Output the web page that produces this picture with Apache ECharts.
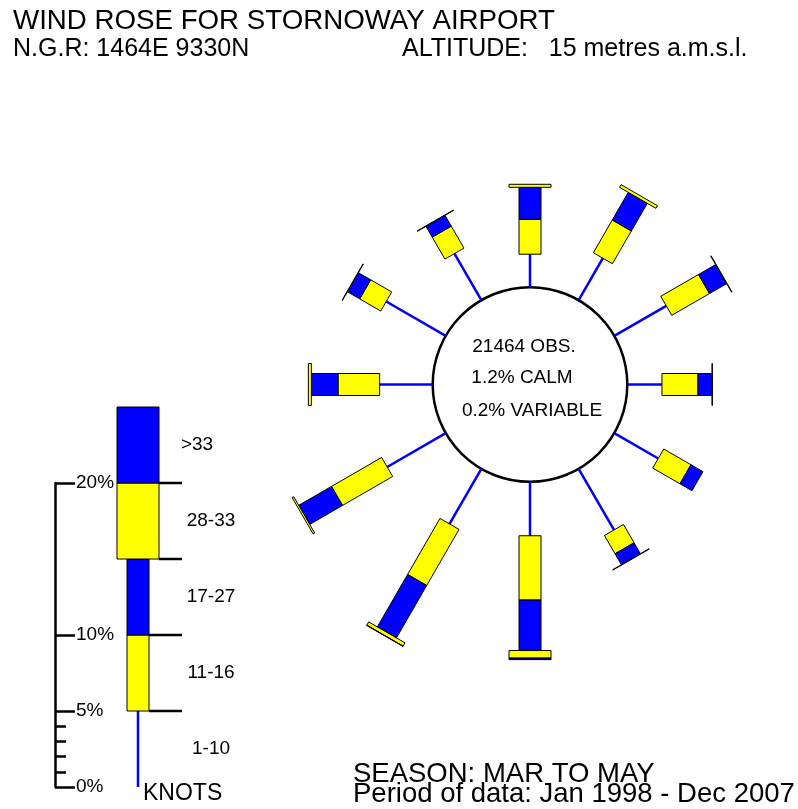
<!DOCTYPE html>
<html>
<head>
<meta charset="utf-8">
<title>Wind rose - Stornoway Airport</title>
<script src="https://cdn.jsdelivr.net/npm/echarts@6/dist/echarts.min.js"></script>
<style>
  html, body { margin:0; padding:0; background:#fff; }
  #main { width:798px; height:809px; }
</style>
</head>
<body>
<div id="main"></div>
<script>
// wind direction, degrees clockwise from north
var directions = [0, 30, 60, 90, 120, 150, 180, 210, 240, 270, 300, 330];
// % of observations in each speed band (knots), per direction
var kt1_10   = [2.17, 3.19, 3.95, 2.28, 3.34, 4.65, 3.55, 4.19, 4.45, 3.49, 4.52, 3.54];
var kt11_16  = [2.30, 2.49, 2.87, 2.37, 2.07, 1.39, 4.23, 4.26, 3.81, 2.74, 1.60, 1.67];
var kt17_27  = [2.10, 2.10, 1.30, 0.92, 0.91, 0.83, 3.32, 3.98, 2.49, 1.75, 0.93, 0.82];
var kt28_33  = [0.20, 0.20, 0.03, 0.03, 0.00, 0.03, 0.50, 0.25, 0.12, 0.20, 0.03, 0.03];
var ktOver33 = [0.00, 0.00, 0.00, 0.00, 0.00, 0.00, 0.10, 0.02, 0.00, 0.00, 0.00, 0.00];

// key
var bandNames = ['1-10', '11-16', '17-27', '28-33', '>33'];
var bandEdges = [0, 5, 10, 15, 20, 25];
var scaleTicks = [0, 5, 10, 20];
var scaleMinorTicks = [1, 2, 3, 4];

var obsCount = 21464;
var calmPct = 1.2;
var variablePct = 0.2;

var FONT = '"Liberation Sans", Arial, Helvetica, sans-serif';
var bandColors = ['#0000ff', '#ffff00', '#0000ff', '#ffff00', '#0000ff'];
var bandHalfWidth = [0, 11, 11, 21, 21];

var roseData = [];
for (var i = 0; i < directions.length; i++) {
  roseData.push([directions[i], kt1_10[i], kt11_16[i], kt17_27[i], kt28_33[i], ktOver33[i]]);
}
var keyData = [];
for (var k = 0; k < bandNames.length; k++) {
  keyData.push([k, bandEdges[k], bandEdges[k + 1]]);
}

function txt(x, y, s, size, align) {
  return {
    type: 'text', x: x, y: y, silent: true, z: 100,
    style: {
      text: s, fill: '#000', fontSize: size, fontFamily: FONT,
      align: align || 'left', textAlign: align || 'left',
      verticalAlign: 'middle', textVerticalAlign: 'middle'
    }
  };
}

function renderSpoke(params, api) {
  var ang = api.value(0);
  var cs = params.coordSys;
  var kids = [];
  // unit vector along the spoke, and its normal
  var a = api.coord([0, ang]);
  var b = api.coord([1, ang]);
  var len = Math.sqrt((b[0] - a[0]) * (b[0] - a[0]) + (b[1] - a[1]) * (b[1] - a[1]));
  var ux = (b[0] - a[0]) / len, uy = (b[1] - a[1]) / len;
  var nx = -uy, ny = ux;

  if (params.dataIndex === 0) {
    var r0 = Math.sqrt((a[0] - cs.cx) * (a[0] - cs.cx) + (a[1] - cs.cy) * (a[1] - cs.cy));
    kids.push({
      type: 'circle', shape: { cx: cs.cx, cy: cs.cy, r: r0 },
      style: { fill: 'none', stroke: '#000', lineWidth: 2.5 }
    });
  }

  var from = 0;
  for (var j = 0; j < 5; j++) {
    var v = api.value(j + 1);
    var to = from + v;
    var p = api.coord([from, ang]);
    var q = api.coord([to, ang]);
    if (j === 0) {
      kids.push({
        type: 'line', shape: { x1: p[0], y1: p[1], x2: q[0], y2: q[1] },
        style: { stroke: '#0000ff', lineWidth: 2.5 }
      });
    } else if (v > 0) {
      var w = bandHalfWidth[j];
      kids.push({
        type: 'polygon',
        shape: { points: [
          [p[0] + nx * w, p[1] + ny * w],
          [q[0] + nx * w, q[1] + ny * w],
          [q[0] - nx * w, q[1] - ny * w],
          [p[0] - nx * w, p[1] - ny * w]
        ] },
        style: { fill: bandColors[j], stroke: '#000', lineWidth: 1 }
      });
    }
    from = to;
  }
  return { type: 'group', children: kids };
}

function renderKey(params, api) {
  var i = api.value(0);
  var lo = api.coord([0, api.value(1)]);
  var hi = api.coord([0, api.value(2)]);
  var x = lo[0];
  var hw = bandHalfWidth[i];
  var kids = [];
  if (hw === 0) {
    kids.push({
      type: 'line', shape: { x1: x, y1: lo[1], x2: x, y2: hi[1] },
      style: { stroke: '#0000ff', lineWidth: 2.5 }
    });
  } else {
    kids.push({
      type: 'rect', shape: { x: x - hw, y: hi[1], width: 2 * hw, height: lo[1] - hi[1] },
      style: { fill: bandColors[i], stroke: '#000', lineWidth: 1 }
    });
    kids.push({
      type: 'line', shape: { x1: x + hw, y1: lo[1], x2: 182, y2: lo[1] },
      style: { stroke: '#000', lineWidth: 2.5 }
    });
  }
  kids.push(txt(i === 4 ? 197 : 211, (lo[1] + hi[1]) / 2, bandNames[i], 19, 'center'));
  return { type: 'group', children: kids };
}

var chart = echarts.init(document.getElementById('main'));

chart.setOption({
  backgroundColor: '#fff',
  animation: false,
  polar: { center: [530, 384.5], radius: [97.3, 97.3 + 14 * 15.2] },
  angleAxis: { type: 'value', min: 0, max: 360, startAngle: 90, clockwise: true, show: false },
  radiusAxis: { type: 'value', min: 0, max: 14, show: false },
  grid: { left: 55, top: 483, width: 166, height: 304 },
  xAxis: { type: 'category', data: [''], show: false },
  yAxis: [{
    type: 'value', min: 0, max: 20, position: 'left',
    axisLine: { show: true, lineStyle: { color: '#000', width: 2.5 } },
    axisTick: { show: true, inside: true, length: 20, customValues: scaleTicks,
      lineStyle: { color: '#000', width: 2.5 } },
    axisLabel: { inside: true, margin: 21, customValues: scaleTicks, formatter: '{value}%',
      color: '#000', fontSize: 19, fontFamily: FONT },
    splitLine: { show: false }
  }, {
    type: 'value', min: 0, max: 20, position: 'left',
    axisLine: { show: false },
    axisTick: { show: true, inside: true, length: 11, customValues: scaleMinorTicks,
      lineStyle: { color: '#000', width: 2.5 } },
    axisLabel: { show: false },
    splitLine: { show: false }
  }],
  graphic: [
    txt(13, 21, 'WIND ROSE FOR STORNOWAY AIRPORT', 27.7),
    txt(13, 49, 'N.G.R: 1464E 9330N', 25),
    txt(402, 49, 'ALTITUDE:   15 metres a.m.s.l.', 25),
    txt(524, 347, obsCount + ' OBS.', 19, 'center'),
    txt(522, 378, calmPct.toFixed(1) + '% CALM', 19, 'center'),
    txt(532, 411, variablePct.toFixed(1) + '% VARIABLE', 19, 'center'),
    txt(143, 794, 'KNOTS', 23),
    txt(353, 774, 'SEASON: MAR TO MAY', 27.5),
    txt(353, 794, 'Period of data: Jan 1998 - Dec 2007', 27.5)
  ],
  series: [{
    type: 'custom', coordinateSystem: 'polar', silent: true,
    encode: { radius: 1, angle: 0 },
    renderItem: renderSpoke, data: roseData
  }, {
    type: 'custom', coordinateSystem: 'cartesian2d', silent: true,
    renderItem: renderKey, data: keyData
  }]
});
</script>
</body>
</html>
